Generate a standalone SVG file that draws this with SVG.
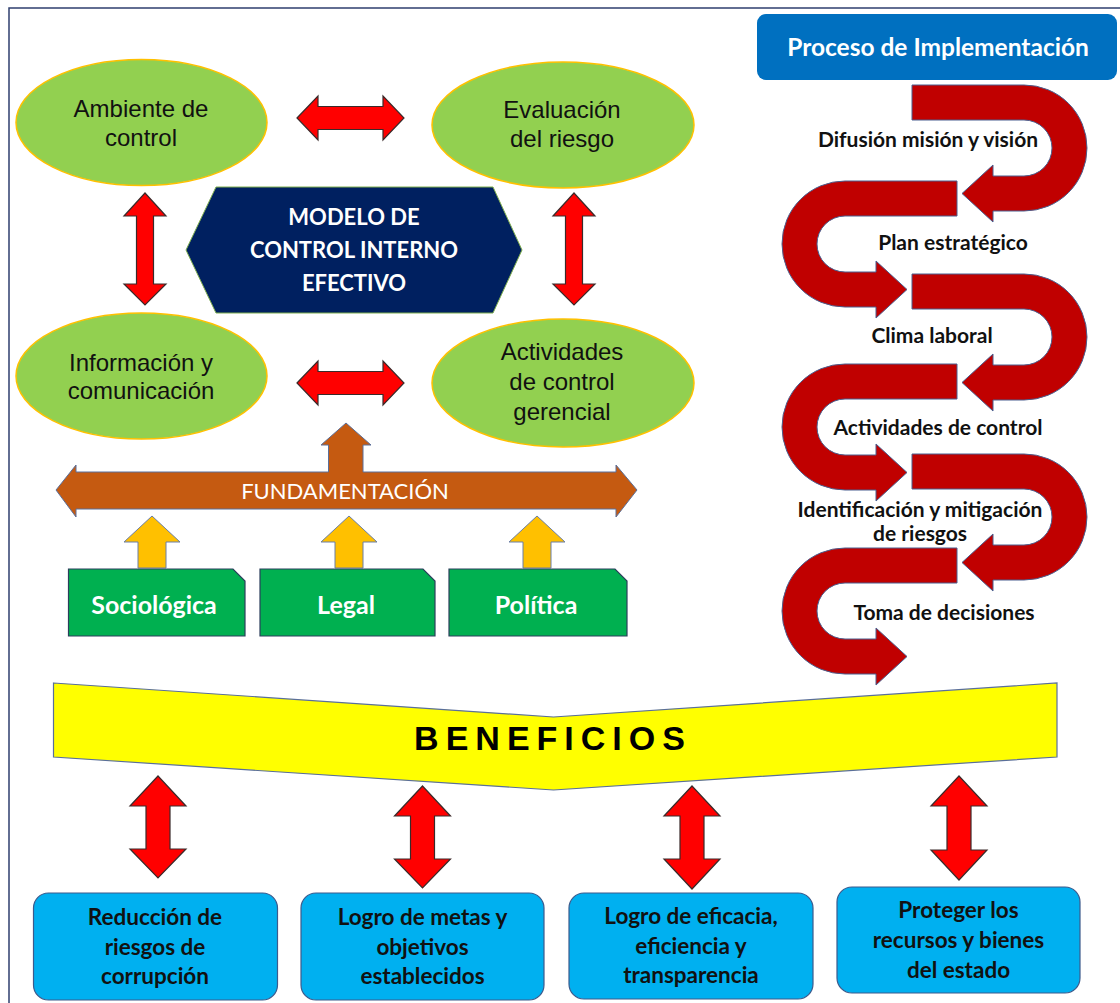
<svg xmlns="http://www.w3.org/2000/svg" xmlns:xlink="http://www.w3.org/1999/xlink" width="1120" height="1003" viewBox="0 0 1120 1003">
<style>
.ell{fill:#92D050;stroke:#FFC000;stroke-width:1.5}
.et{font-family:"Liberation Sans",Arial,sans-serif;font-size:24px;fill:#111;text-anchor:middle}
.red{fill:#FF0000;stroke:#3a2a2a;stroke-width:1.2}
.yel{fill:#FFC000;stroke:#6a7fa6;stroke-width:1}
.grn{fill:#00B050;stroke:#2b3e5c;stroke-width:1.2}
.gt{font-family:Lato,"Open Sans",sans-serif;font-weight:700;font-size:22px;fill:#fff;text-anchor:middle}
.gb{font-family:Lato,"Open Sans",sans-serif;font-weight:700;font-size:25px;fill:#fff;text-anchor:middle}
.blu{fill:#00B0F0;stroke:#3c5a8c;stroke-width:1.2}
.bt{font-family:Lato,"Open Sans",sans-serif;font-weight:700;font-size:22.5px;fill:#111;text-anchor:middle}
.st{font-family:Lato,"Open Sans",sans-serif;font-weight:700;font-size:21px;fill:#111;text-anchor:middle}
.snake{fill:#C00000;stroke:#4a5f8f;stroke-width:1}
</style>
<defs>
<path id="u" d="M0,0 H112 A63,63 0 0 1 112,126 H81 V137 L50,108.5 L81,80 V91 H112 A28,28 0 0 0 112,35 H0 Z"/>
</defs>
<rect width="1120" height="1003" fill="#fff"/>
<path d="M9,1003 V8 H1120" fill="none" stroke="#2F3F6F" stroke-width="1.5"/>

<g id="connectors">
<polygon class="red" points="297,118 318,96 318,106.5 383,106.5 383,96 404,118 383,140 383,129.5 318,129.5 318,140"/>
<polygon class="red" points="297,383 318,361 318,371.5 383,371.5 383,361 404,383 383,405 383,394.5 318,394.5 318,405"/>
<polygon class="red" points="145,193 166,216 153.5,216 153.5,284 166,284 145,305 124,284 136.5,284 136.5,216 124,216"/>
<polygon class="red" points="574,193 595,216 582.5,216 582.5,284 595,284 574,305 553,284 565.5,284 565.5,216 553,216"/>
<polygon class="yel" points="152,516 180,542 166,542 166,568 138,568 138,542 124,542"/>
<polygon class="yel" points="349,516 377,542 363,542 363,568 335,568 335,542 321,542"/>
<polygon class="yel" points="537,516 565,542 551,542 551,568 523,568 523,542 509,542"/>
<polygon class="red" points="158,776 186,806 170,806 170,849 186,849 158,878 130,849 146,849 146,806 130,806"/>
<polygon class="red" points="422.5,786 450.5,816 434.5,816 434.5,859 450.5,859 422.5,888 394.5,859 410.5,859 410.5,816 394.5,816"/>
<polygon class="red" points="692,786 720,816 704,816 704,859 720,859 692,889 664,859 680,859 680,816 664,816"/>
<polygon class="red" points="959,776 987,806 971,806 971,850 987,850 959,880 931,850 947,850 947,806 931,806"/>
</g>

<g id="ambiente">
<ellipse class="ell" cx="141.5" cy="122.5" rx="125.5" ry="63"/>
<text class="et" x="141" y="116.5">Ambiente de</text>
<text class="et" x="141" y="146">control</text>
</g>
<g id="evaluacion">
<ellipse class="ell" cx="563" cy="125" rx="131" ry="63"/>
<text class="et" x="562" y="118">Evaluación</text>
<text class="et" x="562" y="147">del riesgo</text>
</g>
<g id="informacion">
<ellipse class="ell" cx="141.5" cy="376" rx="125.5" ry="63"/>
<text class="et" x="141" y="371">Información y</text>
<text class="et" x="141" y="399">comunicación</text>
</g>
<g id="actividades">
<ellipse class="ell" cx="563" cy="383" rx="131" ry="64"/>
<text class="et" x="562" y="360">Actividades</text>
<text class="et" x="562" y="390">de control</text>
<text class="et" x="562" y="420">gerencial</text>
</g>
<g id="modelo">
<polygon points="186,250 216,187 493,187 522,250 493,313 216,313" fill="#002060" stroke="#7fae4f" stroke-width="1"/>
<text class="gt" x="354" y="225">MODELO DE</text>
<text class="gt" x="354" y="258">CONTROL INTERNO</text>
<text class="gt" x="354" y="291">EFECTIVO</text>
</g>

<g id="fundamentacion">
<polygon points="56,490 76,465 76,472 328.5,472 328.5,445 321,445 346,423 371,445 363,445 363,472 616,472 616,465 637,490 616,517 616,509 76,509 76,517" fill="#C55A11" stroke="#5a6f9a" stroke-width="1"/>
<text x="345" y="499" font-family="Lato,'Open Sans',sans-serif" font-size="22" fill="#fff" text-anchor="middle">FUNDAMENTACIÓN</text>
</g>
<g id="sociologica">
<path class="grn" d="M68.5,569 H233 L245,581 V636 H68.5 Z"/>
<text class="gb" x="154" y="614">Sociológica</text>
</g>
<g id="legal">
<path class="grn" d="M260,569 H423 L435,581 V636 H260 Z"/>
<text class="gb" x="346" y="614">Legal</text>
</g>
<g id="politica">
<path class="grn" d="M449,569 H615 L627,581 V636 H449 Z"/>
<text class="gb" x="536" y="614">Política</text>
</g>

<g id="proceso">
<rect x="757" y="14" width="360" height="66" rx="9" fill="#0070C0"/>
<text class="gt" x="938" y="56" style="font-size:24.5px">Proceso de Implementación</text>
</g>
<g id="serpentine">
<use xlink:href="#u" href="#u" class="snake" transform="translate(912,85)"/>
<use xlink:href="#u" href="#u" class="snake" transform="translate(957,181) scale(-1,1)"/>
<use xlink:href="#u" href="#u" class="snake" transform="translate(912,274)"/>
<use xlink:href="#u" href="#u" class="snake" transform="translate(957,364) scale(-1,1)"/>
<use xlink:href="#u" href="#u" class="snake" transform="translate(912,454)"/>
<use xlink:href="#u" href="#u" class="snake" transform="translate(957,548) scale(-1,1)"/>
<text class="st" x="928" y="147">Difusión misión y visión</text>
<text class="st" x="953" y="250">Plan estratégico</text>
<text class="st" x="932" y="343">Clima laboral</text>
<text class="st" x="938" y="435">Actividades de control</text>
<text class="st" x="920" y="517">Identificación y mitigación</text>
<text class="st" x="920" y="541">de riesgos</text>
<text class="st" x="944" y="620">Toma de decisiones</text>
</g>

<g id="beneficios">
<polygon points="53.5,683 553.5,717 1057,683 1057,757 553.5,790 53.5,757" fill="#FFFF00" stroke="#5a6f9a" stroke-width="1.2"/>
<text x="553" y="750" font-family="'Liberation Sans',Arial,sans-serif" font-weight="700" font-size="34" letter-spacing="7" fill="#000" text-anchor="middle">BENEFICIOS</text>
</g>

<g id="reduccion">
<rect class="blu" x="33.5" y="893" width="244" height="107" rx="15"/>
<text class="bt" x="155" y="925">Reducción de</text>
<text class="bt" x="155" y="955">riesgos de</text>
<text class="bt" x="155" y="984">corrupción</text>
</g>
<g id="logro-metas">
<rect class="blu" x="301" y="893" width="243" height="107" rx="15"/>
<text class="bt" x="422.5" y="925">Logro de metas y</text>
<text class="bt" x="422.5" y="955">objetivos</text>
<text class="bt" x="422.5" y="984">establecidos</text>
</g>
<g id="logro-eficacia">
<rect class="blu" x="569" y="893" width="244" height="106" rx="15"/>
<text class="bt" x="691" y="924">Logro de eficacia,</text>
<text class="bt" x="691" y="954">eficiencia y</text>
<text class="bt" x="691" y="983">transparencia</text>
</g>
<g id="proteger">
<rect class="blu" x="837" y="887" width="243" height="106" rx="15"/>
<text class="bt" x="958.5" y="918">Proteger los</text>
<text class="bt" x="958.5" y="948">recursos y bienes</text>
<text class="bt" x="958.5" y="978">del estado</text>
</g>
</svg>
